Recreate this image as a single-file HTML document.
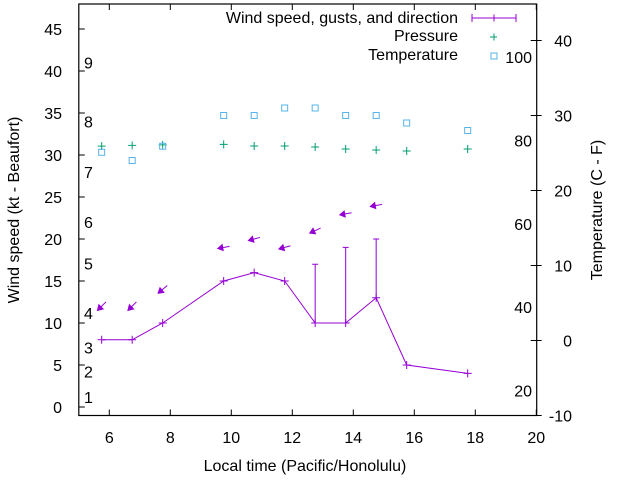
<!DOCTYPE html>
<html><head><meta charset="utf-8"><style>
html,body{margin:0;padding:0;background:#fff;}
svg{display:block;font-family:"Liberation Sans",sans-serif;}
</style></head><body>
<svg id="chart" width="640" height="480" viewBox="0 0 640 480" xmlns="http://www.w3.org/2000/svg">
<g id="axes"></g>
<g id="marks"></g>
<g id="legend">
<text x="458" y="23" text-anchor="end" font-size="16">Wind speed, gusts, and direction</text>
<line x1="472" y1="18" x2="516" y2="18" stroke="#9400d3"/>
<line x1="472" y1="14" x2="472" y2="22" stroke="#9400d3"/>
<line x1="516" y1="14" x2="516" y2="22" stroke="#9400d3"/>
<path d="M490 18h7M494 14.5v7" stroke="#9400d3"/>
<text x="458" y="41" text-anchor="end" font-size="16">Pressure</text>
<path d="M490 37h7M494 33.5v7" stroke="#009e73"/>
<text x="458" y="60" text-anchor="end" font-size="16">Temperature</text>
<rect x="491" y="53" width="6" height="6" fill="none" stroke="#56b4e9"/>
</g>
</svg>
<script>
const times=[5.75,6.75,7.75,9.75,10.75,11.75,12.75,13.75,14.75,15.75,17.75];
const windSpeed=[8,8,10,15,16,15,10,10,13,5,4];
const gustTimes=[12.75,13.75,14.75];
const gustSpeed=[17,19,20];
const gustBase=[10,10,13];
const arrowTimes=[5.75,6.75,7.75,9.75,10.75,11.75,12.75,13.75,14.75];
const arrowLevel=[12,12,14,19,20,19,21,23,24];
const arrowDir=[45,45,50,80,75,75,65,80,80]; // direction wind comes from (deg)
const pressure=[31.05,31.15,31.2,31.27,31.07,31.07,30.95,30.71,30.6,30.48,30.71];
const tempC=[25.1,24.0,25.9,30.0,30.0,31.0,31.0,30.0,30.0,29.0,28.0];
const xTicks=[6,8,10,12,14,16,18,20];
const yTicks=[0,5,10,15,20,25,30,35,40,45];
const y2Ticks=[-10,0,10,20,30,40];
const fTicks=[20,40,60,80,100];
const beaufortLabels=["1","2","3","4","5","6","7","8","9"];
const beaufortKt=[1.2,4.2,7.1,11.2,17.1,22,28,34,41];

const NS="http://www.w3.org/2000/svg";
const L=78.8,R=536.7,T=4,B=415.5;
const X=v=>109.3+(v-6)*30.5;
const Y=v=>407-v*8.4;
const Y2=c=>340.5-c*7.5;
function mk(tag,attrs,parent,txt){const e=document.createElementNS(NS,tag);for(const k in attrs)e.setAttribute(k,attrs[k]);if(txt!==undefined)e.textContent=txt;parent.appendChild(e);return e;}
const ax=document.getElementById('axes'),mg=document.getElementById('marks');

let e=mk('rect',{x:L,y:T,width:R-L,height:B-T,fill:'none',stroke:'#000','stroke-width':1.2},ax);


xTicks.forEach(v=>{
  const x=X(v);
  let t=mk('path',{d:`M${x} ${B}v-6M${x} ${T}v6`,stroke:'#000'},ax);
  
  
  let l=mk('text',{x:x,y:443,'text-anchor':'middle','font-size':16},ax,String(v));
  
  
});
yTicks.forEach(v=>{
  const y=Y(v);
  let t=mk('path',{d:`M${L} ${y}h6`,stroke:'#000'},ax);
  
  
  let l=mk('text',{x:62,y:y+6,'text-anchor':'end','font-size':16},ax,String(v));
  
  
});
y2Ticks.forEach(v=>{
  const y=Y2(v);
  let t=mk('path',{d:`M${R-6} ${y}h11`,stroke:'#000'},ax);
  
  
  let l=mk('text',{x:572,y:y+6,'text-anchor':'end','font-size':16},ax,String(v));
  
  
});
fTicks.forEach(v=>{
  const y=Y2((v-32)/1.8);
  let l=mk('text',{x:532,y:y+6,'text-anchor':'end','font-size':16},ax,String(v));
  
  
});
beaufortLabels.forEach((s,i)=>{
  let l=mk('text',{x:84,y:Y(beaufortKt[i])+6,'font-size':16},ax,s);
  
  
});
e=mk('text',{x:305,y:471,'text-anchor':'middle','font-size':16},ax,'Local time (Pacific/Honolulu)');


e=mk('text',{x:0,y:0,'text-anchor':'middle','font-size':16,transform:'translate(19,210) rotate(-90)'},ax,'Wind speed (kt - Beaufort)');


e=mk('text',{x:0,y:0,'text-anchor':'middle','font-size':16,transform:'translate(602,210) rotate(-90)'},ax,'Temperature (C - F)');



// wind line
e=mk('polyline',{points:times.map((t,i)=>X(t)+','+Y(windSpeed[i])).join(' '),fill:'none',stroke:'#9400d3','stroke-width':1},mg);


times.forEach((t,i)=>{
  const x=X(t),y=Y(windSpeed[i]);
  let p=mk('path',{d:`M${x-4} ${y}h8M${x} ${y-4}v8`,stroke:'#9400d3'},mg);
  
  
});
gustTimes.forEach((t,i)=>{
  const x=X(t),y1=Y(gustBase[i]),y2=Y(gustSpeed[i]);
  let p=mk('path',{d:`M${x} ${y1}V${y2}M${x-3} ${y2}h6`,stroke:'#9400d3'},mg);
  
  
});
arrowTimes.forEach((t,i)=>{
  const cx=X(t),cy=Y(arrowLevel[i]);
  const a=arrowDir[i]*Math.PI/180;
  const ux=-Math.sin(a),uy=Math.cos(a);
  const len=12;
  const hx=cx+ux*len/2,hy=cy+uy*len/2,tx=cx-ux*len/2,ty=cy-uy*len/2;
  const px=-uy,py=ux,hl=5,hw=3;
  const bx=hx-ux*hl,by=hy-uy*hl;
  let g=mk('g',{},mg);
  
  
  mk('line',{x1:tx,y1:ty,x2:bx,y2:by,stroke:'#9400d3'},g);
  mk('polygon',{points:`${hx},${hy} ${bx+px*hw},${by+py*hw} ${bx-px*hw},${by-py*hw}`,fill:'#9400d3',stroke:'#9400d3'},g);
});
times.forEach((t,i)=>{
  const x=X(t),y=Y(pressure[i]);
  let p=mk('path',{d:`M${x-4} ${y}h8M${x} ${y-4}v8`,stroke:'#009e73'},mg);
  
  
  const yt=Y2(tempC[i]);
  let r=mk('rect',{x:x-3,y:yt-3,width:6,height:6,fill:'none',stroke:'#56b4e9'},mg);
  
  
});
</script>
</body></html>
